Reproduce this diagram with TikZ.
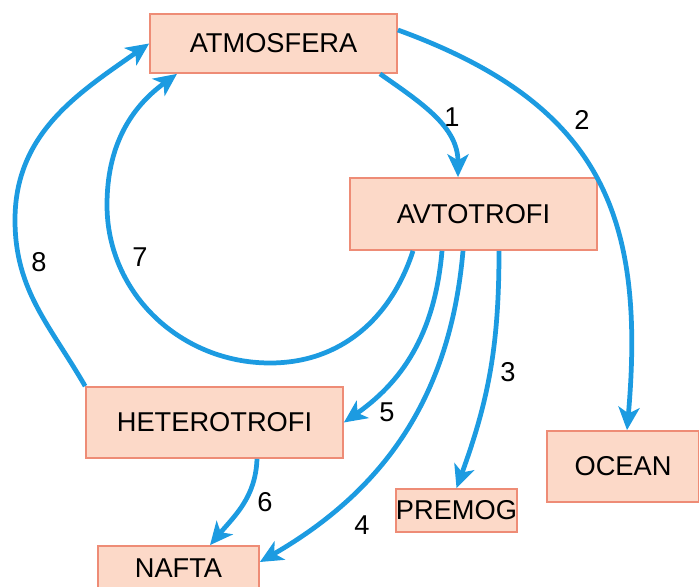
\documentclass[tikz,border=0pt]{standalone}
\usepackage{fontspec}
\setmainfont{Liberation Sans}
\usetikzlibrary{arrows.meta}

\definecolor{boxfill}{RGB}{252,217,200}
\definecolor{boxline}{RGB}{238,140,118}
\definecolor{flowblue}{RGB}{28,155,225}

\tikzset{
    box/.style={draw=boxline, fill=boxfill, line width=1pt, inner sep=0pt, font=\fontsize{15.5}{18}\selectfont},
    num/.style={inner sep=0pt, font=\fontsize{15.5}{18}\selectfont},
    flow/.style={->, flowblue, line width=2.7pt, >={Stealth[length=13pt,width=12pt,inset=3.5pt]}}
}

\begin{document}
\begin{tikzpicture}

    \useasboundingbox (0,0) rectangle (13.98,11.72);

    \node[box, minimum width=4.94cm, minimum height=1.18cm] at (5.47,10.85) (atm) {ATMOSFERA};
    \node[box, minimum width=4.94cm, minimum height=1.44cm] at (9.47,7.44) (avt) {AVTOTROFI};
    \node[box, minimum width=5.14cm, minimum height=1.42cm] at (4.29,3.27) (het) {HETEROTROFI};
    \node[box, minimum width=3.04cm, minimum height=1.42cm] at (12.46,2.39) (ocean) {OCEAN};
    \node[box, minimum width=2.38cm, minimum height=0.86cm] at (9.13,1.51) (premog) {PREMOG};
    \node[box, minimum width=3.22cm, minimum height=0.90cm] at (3.57,0.35) (nafta) {NAFTA};

    \coordinate (loopB) at (5.40,4.46);
    \coordinate (loopL) at (2.14,7.62);
    \coordinate (outerL) at (0.30,7.32);

    \draw[flow] ([xshift=2.13cm]atm.south) to[out=-35,in=90] ([xshift=-0.31cm]avt.north);
    \draw[flow] ([yshift=0.27cm]atm.east) to[out=-20,in=85,looseness=1.2] ([xshift=0.08cm]ocean.north);
    \draw[flow] ([xshift=0.51cm]avt.south) to[out=-90,in=70] (premog.north);
    \draw[flow] ([xshift=-0.21cm]avt.south) to[out=-95,in=30] ([yshift=0.13cm]nafta.east);
    \draw[flow] ([xshift=-0.63cm]avt.south) to[out=-95,in=35] (het.east);
    \draw[flow] ([xshift=0.85cm]het.south) to[out=-92,in=50] ([xshift=0.63cm]nafta.north);
    \draw[flow] ([xshift=-1.21cm]avt.south) to[out=-108,in=0] (loopB) to[out=180,in=-90] (loopL) to[out=90,in=-144] ([xshift=-1.93cm]atm.south);
    \draw[flow] (het.north west) to[out=120,in=-90] (outerL) to[out=90,in=-145] (atm.west);

    \node[num] at (9.04,9.38) (n1) {1};
    \node[num] at (11.64,9.32) (n2) {2};
    \node[num] at (10.16,4.28) (n3) {3};
    \node[num] at (7.24,1.22) (n4) {4};
    \node[num] at (7.74,3.48) (n5) {5};
    \node[num] at (5.30,1.68) (n6) {6};
    \node[num] at (2.80,6.58) (n7) {7};
    \node[num] at (0.78,6.48) (n8) {8};

\end{tikzpicture}
\end{document}
